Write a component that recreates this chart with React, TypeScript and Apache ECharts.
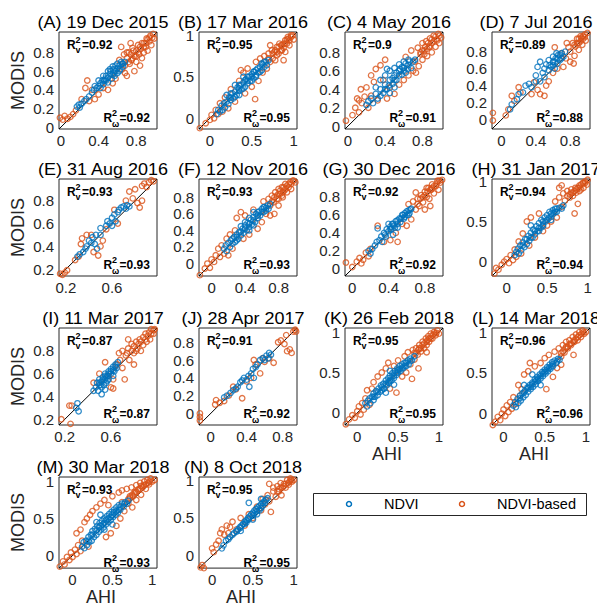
import React, { useEffect, useRef } from 'react';
import * as echarts from 'echarts';

const FONT = '"Liberation Sans", Arial, Helvetica, sans-serif';
const BLUE = '#0072BD';
const ORANGE = '#D95319';
const AXIS_COLOR = '#262626';

// ---------- panel meta ----------
const titles = [
  '(A) 19 Dec 2015', '(B) 17 Mar 2016', '(C) 4 May 2016', '(D) 7 Jul 2016',
  '(E) 31 Aug 2016', '(F) 12 Nov 2016', '(G) 30 Dec 2016', '(H) 31 Jan 2017',
  '(I) 11 Mar 2017', '(J) 28 Apr 2017', '(K) 26 Feb 2018', '(L) 14 Mar 2018',
  '(M) 30 Mar 2018', '(N) 8 Oct 2018',
];
const r2v = ['0.92', '0.95', '0.9', '0.89', '0.93', '0.93', '0.92', '0.94', '0.87', '0.91', '0.95', '0.96', '0.93', '0.95'];
const r2w = ['0.92', '0.95', '0.91', '0.88', '0.93', '0.93', '0.92', '0.94', '0.87', '0.92', '0.95', '0.96', '0.93', '0.95'];
const axisMin = [-0.02, -0.13, -0.03, -0.11, 0.14, -0.15, -0.08, -0.18, 0.15, -0.13, -0.15, -0.14, -0.17, -0.16];
const axisMax = [1.02, 1.04, 1.02, 1.03, 0.99, 1.02, 1.0, 1.03, 1.0, 0.96, 1.05, 1.05, 1.06, 1.04];
const T04 = [0, 0.4, 0.8];
const T05 = [0, 0.5, 1];
const T26 = [0.2, 0.6];
const Y02 = [0, 0.2, 0.4, 0.6, 0.8];
const Y28 = [0.2, 0.4, 0.6, 0.8];
const xTicks = [T04, T05, T04, T04, T26, T04, T04, T05, T26, T04, T05, T05, T05, T05];
const yTicks = [Y02, T05, Y02, Y02, Y28, Y02, Y02, T05, Y28, Y02, T05, T05, T05, T05];
const legendNames = ['NDVI', 'NDVI-based'];

// ---------- data: [AHI, MODIS] ----------
const ndviA = [[0.17,0.22],[0.19,0.24],[0.2,0.21],[0.22,0.25],[0.25,0.28],[0.27,0.3],[0.3,0.33],[0.33,0.37],[0.35,0.4],[0.38,0.42],[0.4,0.44],[0.42,0.47],[0.44,0.5],[0.45,0.46],[0.47,0.52],[0.48,0.55],[0.5,0.53],[0.52,0.57],[0.53,0.6],[0.55,0.56],[0.56,0.62],[0.58,0.6],[0.6,0.63],[0.6,0.58],[0.62,0.66],[0.63,0.62],[0.65,0.68],[0.66,0.65],[0.68,0.7],[0.5,0.6],[0.45,0.55],[0.55,0.65],[0.4,0.5],[0.36,0.44],[0.57,0.55],[0.5,0.48],[0.52,0.62],[0.54,0.52],[0.58,0.66],[0.62,0.6],[0.64,0.7],[0.46,0.5],[0.42,0.42],[0.6,0.68],[0.56,0.58],[0.48,0.5],[0.66,0.68]];
const basedA = [[-0.01,0.1],[0.02,0.08],[0.04,0.12],[0.07,0.09],[0.1,0.11],[0.13,0.14],[0.16,0.18],[0.22,0.3],[0.26,0.42],[0.28,0.5],[0.3,0.28],[0.33,0.4],[0.36,0.3],[0.4,0.35],[0.45,0.42],[0.5,0.4],[0.55,0.47],[0.58,0.52],[0.62,0.72],[0.65,0.62],[0.67,0.78],[0.68,0.66],[0.7,0.74],[0.7,0.55],[0.72,0.8],[0.73,0.68],[0.75,0.72],[0.76,0.85],[0.78,0.76],[0.78,0.6],[0.8,0.82],[0.8,0.7],[0.82,0.88],[0.83,0.78],[0.85,0.84],[0.86,0.74],[0.88,0.9],[0.88,0.8],[0.9,0.86],[0.91,0.95],[0.92,0.82],[0.94,0.92],[0.95,0.98],[0.96,0.88],[0.98,1.0],[0.99,0.95],[0.74,0.9],[0.64,0.86],[0.68,0.58],[0.84,0.66],[0.7,0.8],[0.74,0.78],[0.77,0.82],[0.8,0.76],[0.82,0.8],[0.84,0.86],[0.86,0.9],[0.9,0.9],[0.92,0.94],[0.94,0.96],[0.97,0.96],[0.72,0.7],[0.76,0.74],[0.88,0.86]];

const ndviB = [[0.08,0.05],[0.1,0.1],[0.12,0.08],[0.14,0.15],[0.15,0.1],[0.17,0.18],[0.18,0.13],[0.2,0.2],[0.22,0.17],[0.23,0.25],[0.25,0.22],[0.27,0.3],[0.28,0.24],[0.3,0.32],[0.32,0.28],[0.33,0.37],[0.35,0.33],[0.37,0.4],[0.38,0.35],[0.4,0.43],[0.42,0.38],[0.43,0.47],[0.45,0.42],[0.47,0.5],[0.48,0.45],[0.5,0.53],[0.52,0.48],[0.53,0.56],[0.55,0.52],[0.57,0.6],[0.58,0.55],[0.6,0.62],[0.62,0.58],[0.63,0.65],[0.65,0.62],[0.67,0.68],[0.68,0.64],[0.7,0.7],[0.3,0.4],[0.4,0.5],[0.5,0.45],[0.35,0.28],[0.2,0.28],[0.25,0.3],[0.3,0.26],[0.35,0.4],[0.4,0.36],[0.45,0.5],[0.5,0.5],[0.55,0.58],[0.6,0.56],[0.62,0.66],[0.45,0.45],[0.35,0.36],[0.25,0.25],[0.55,0.5],[0.65,0.68],[0.42,0.46],[0.52,0.56]];
const basedB = [[-0.12,-0.12],[-0.05,-0.06],[0.0,-0.02],[0.02,0.04],[0.05,0.0],[0.07,0.1],[0.1,0.05],[0.12,0.18],[0.15,0.08],[0.18,0.25],[0.22,0.12],[0.25,0.35],[0.3,0.2],[0.35,0.45],[0.37,0.58],[0.4,0.55],[0.42,0.3],[0.45,0.6],[0.5,0.38],[0.54,0.23],[0.55,0.68],[0.58,0.45],[0.6,0.72],[0.63,0.55],[0.65,0.75],[0.68,0.6],[0.7,0.78],[0.72,0.68],[0.74,0.82],[0.75,0.72],[0.77,0.8],[0.78,0.7],[0.8,0.86],[0.82,0.78],[0.83,0.9],[0.85,0.82],[0.86,0.88],[0.88,0.85],[0.9,0.94],[0.9,0.8],[0.92,0.9],[0.94,0.96],[0.95,0.88],[0.97,0.98],[0.99,1.0],[1.0,0.95],[0.72,0.88],[0.88,0.7],[0.7,0.72],[0.75,0.78],[0.78,0.82],[0.8,0.8],[0.82,0.86],[0.85,0.88],[0.88,0.9],[0.9,0.9],[0.92,0.95],[0.95,0.94],[0.97,1.0],[0.8,0.76],[0.86,0.82],[0.93,0.98]];

const ndviC = [[0.2,0.23],[0.22,0.27],[0.25,0.3],[0.27,0.25],[0.3,0.35],[0.3,0.42],[0.32,0.3],[0.35,0.4],[0.35,0.5],[0.38,0.36],[0.4,0.45],[0.4,0.55],[0.42,0.4],[0.45,0.5],[0.45,0.6],[0.48,0.46],[0.5,0.55],[0.5,0.63],[0.52,0.5],[0.55,0.6],[0.55,0.67],[0.58,0.56],[0.6,0.63],[0.6,0.7],[0.62,0.58],[0.65,0.66],[0.65,0.72],[0.68,0.63],[0.7,0.7],[0.72,0.72],[0.45,0.36],[0.5,0.42],[0.35,0.33],[0.42,0.62],[0.5,0.5],[0.55,0.55],[0.6,0.6],[0.62,0.68],[0.58,0.64],[0.52,0.58],[0.48,0.52],[0.66,0.7],[0.44,0.44],[0.4,0.4],[0.56,0.62],[0.64,0.62]];
const basedC = [[-0.02,0.06],[0.05,0.12],[0.08,0.2],[0.1,0.3],[0.12,0.28],[0.12,0.15],[0.14,0.4],[0.15,0.25],[0.18,0.32],[0.2,0.42],[0.22,0.2],[0.25,0.55],[0.28,0.48],[0.3,0.62],[0.32,0.28],[0.35,0.66],[0.38,0.5],[0.4,0.72],[0.42,0.3],[0.45,0.42],[0.5,0.35],[0.55,0.45],[0.6,0.5],[0.62,0.75],[0.65,0.55],[0.68,0.82],[0.7,0.6],[0.72,0.7],[0.75,0.85],[0.76,0.65],[0.78,0.78],[0.8,0.9],[0.8,0.72],[0.82,0.82],[0.84,0.92],[0.85,0.76],[0.87,0.86],[0.88,0.95],[0.9,0.8],[0.9,0.9],[0.92,0.98],[0.94,0.86],[0.95,0.94],[0.97,1.0],[0.98,0.9],[1.0,0.96],[0.73,0.58],[0.25,0.33],[0.8,0.82],[0.83,0.86],[0.86,0.9],[0.88,0.86],[0.9,0.94],[0.92,0.92],[0.94,0.97],[0.96,0.93],[0.98,0.98],[0.85,0.84],[0.78,0.8],[0.82,0.78]];

const ndviD = [[0.1,0.12],[0.12,0.18],[0.18,0.24],[0.2,0.3],[0.25,0.32],[0.28,0.4],[0.32,0.42],[0.35,0.38],[0.4,0.45],[0.4,0.52],[0.42,0.62],[0.45,0.45],[0.45,0.68],[0.48,0.55],[0.5,0.5],[0.5,0.6],[0.52,0.65],[0.55,0.58],[0.55,0.7],[0.58,0.62],[0.6,0.68],[0.6,0.74],[0.62,0.6],[0.63,0.72],[0.65,0.66],[0.66,0.76],[0.68,0.7],[0.7,0.78],[0.72,0.74],[0.74,0.8],[0.56,0.64],[0.64,0.78],[0.6,0.64],[0.65,0.72],[0.7,0.72],[0.62,0.68],[0.68,0.76]];
const basedD = [[-0.1,-0.01],[-0.1,0.08],[0.05,0.05],[0.08,0.12],[0.12,0.28],[0.15,0.22],[0.2,0.38],[0.22,0.32],[0.35,0.3],[0.38,0.44],[0.42,0.35],[0.45,0.3],[0.5,0.28],[0.52,0.4],[0.55,0.45],[0.6,0.55],[0.62,0.85],[0.65,0.6],[0.7,0.78],[0.72,0.62],[0.75,0.72],[0.78,0.85],[0.8,0.68],[0.8,0.8],[0.83,0.9],[0.85,0.75],[0.86,0.86],[0.88,0.95],[0.9,0.82],[0.9,0.9],[0.92,0.98],[0.94,0.88],[0.95,0.95],[0.97,1.0],[1.0,1.02],[0.98,0.93],[0.76,0.9],[0.84,0.66],[0.85,0.88],[0.88,0.9],[0.9,0.95],[0.92,0.92],[0.95,0.98],[0.97,0.97],[0.93,0.96]];

const ndviE = [[0.3,0.31],[0.32,0.33],[0.35,0.35],[0.37,0.38],[0.38,0.4],[0.4,0.45],[0.42,0.43],[0.43,0.48],[0.45,0.42],[0.46,0.5],[0.47,0.38],[0.5,0.5],[0.55,0.58],[0.56,0.62],[0.58,0.6],[0.6,0.65],[0.62,0.68],[0.63,0.62],[0.65,0.7],[0.66,0.72],[0.68,0.74],[0.7,0.75],[0.72,0.73],[0.73,0.76],[0.75,0.75],[0.6,0.58],[0.5,0.56]];
const basedE = [[0.15,0.16],[0.17,0.15],[0.19,0.17],[0.21,0.19],[0.28,0.28],[0.31,0.31],[0.33,0.42],[0.34,0.47],[0.38,0.5],[0.42,0.5],[0.44,0.35],[0.48,0.32],[0.5,0.4],[0.52,0.45],[0.55,0.55],[0.62,0.72],[0.65,0.6],[0.72,0.8],[0.75,0.88],[0.78,0.82],[0.8,0.9],[0.82,0.78],[0.84,0.74],[0.86,0.8],[0.88,0.95],[0.9,0.92],[0.92,0.96],[0.94,0.98],[0.96,0.97],[0.86,0.93]];

const ndviF = [[0.15,0.18],[0.17,0.22],[0.18,0.15],[0.2,0.25],[0.22,0.2],[0.23,0.28],[0.25,0.24],[0.27,0.32],[0.28,0.26],[0.3,0.35],[0.32,0.3],[0.33,0.38],[0.35,0.34],[0.37,0.42],[0.38,0.37],[0.4,0.46],[0.42,0.4],[0.43,0.49],[0.45,0.44],[0.47,0.53],[0.48,0.47],[0.5,0.56],[0.52,0.5],[0.53,0.6],[0.55,0.55],[0.57,0.63],[0.58,0.58],[0.6,0.66],[0.62,0.62],[0.63,0.68],[0.65,0.64],[0.67,0.7],[0.68,0.66],[0.7,0.72],[0.35,0.45],[0.45,0.55],[0.3,0.28],[0.5,0.62],[0.3,0.32],[0.35,0.38],[0.4,0.42],[0.45,0.48],[0.5,0.52],[0.55,0.58],[0.6,0.62],[0.65,0.67],[0.4,0.5],[0.5,0.46],[0.25,0.3],[0.55,0.62],[0.62,0.68],[0.45,0.4]];
const basedF = [[-0.14,-0.14],[-0.08,-0.06],[-0.05,0.0],[-0.02,-0.05],[0.0,0.05],[0.03,0.02],[0.05,0.1],[0.08,0.18],[0.1,0.08],[0.12,0.22],[0.15,0.12],[0.18,0.3],[0.2,0.1],[0.22,0.35],[0.25,0.18],[0.28,0.4],[0.3,0.55],[0.35,0.62],[0.38,0.3],[0.4,0.58],[0.45,0.35],[0.5,0.65],[0.55,0.42],[0.6,0.5],[0.62,0.75],[0.65,0.6],[0.68,0.78],[0.7,0.7],[0.72,0.82],[0.74,0.74],[0.76,0.86],[0.78,0.78],[0.8,0.9],[0.8,0.7],[0.82,0.84],[0.84,0.92],[0.85,0.8],[0.87,0.88],[0.88,0.96],[0.9,0.86],[0.92,0.92],[0.94,0.98],[0.95,0.9],[0.97,1.0],[1.0,0.98],[0.7,0.58],[0.75,0.6],[0.72,0.75],[0.75,0.8],[0.78,0.82],[0.8,0.84],[0.82,0.88],[0.85,0.86],[0.88,0.9],[0.9,0.94],[0.92,0.96],[0.95,0.96],[0.98,1.0],[0.86,0.92],[0.8,0.78],[0.84,0.82]];

const ndviG = [[0.18,0.2],[0.2,0.17],[0.22,0.22],[0.25,0.26],[0.27,0.3],[0.28,0.45],[0.3,0.32],[0.32,0.36],[0.33,0.3],[0.35,0.4],[0.37,0.36],[0.38,0.44],[0.4,0.42],[0.42,0.47],[0.43,0.44],[0.45,0.5],[0.47,0.46],[0.48,0.53],[0.5,0.5],[0.52,0.56],[0.53,0.52],[0.55,0.6],[0.57,0.56],[0.58,0.62],[0.6,0.6],[0.62,0.65],[0.63,0.62],[0.65,0.67],[0.45,0.38],[0.4,0.5],[0.42,0.44],[0.46,0.48],[0.5,0.54],[0.54,0.56],[0.56,0.6],[0.6,0.64],[0.62,0.6],[0.5,0.46],[0.44,0.5],[0.58,0.58],[0.36,0.38],[0.64,0.66]];
const basedG = [[-0.07,0.07],[0.0,0.02],[0.05,0.08],[0.08,0.12],[0.1,0.06],[0.12,0.1],[0.15,0.18],[0.18,0.14],[0.2,0.22],[0.28,0.48],[0.35,0.3],[0.42,0.32],[0.48,0.4],[0.5,0.3],[0.55,0.5],[0.6,0.48],[0.62,0.72],[0.65,0.55],[0.67,0.75],[0.7,0.66],[0.72,0.78],[0.74,0.7],[0.76,0.82],[0.78,0.74],[0.8,0.86],[0.8,0.66],[0.82,0.8],[0.84,0.9],[0.85,0.78],[0.87,0.88],[0.88,0.94],[0.9,0.84],[0.92,0.92],[0.94,0.98],[0.95,0.88],[0.97,0.96],[0.99,0.99],[0.7,0.85],[0.86,0.7],[0.75,0.78],[0.78,0.8],[0.8,0.82],[0.83,0.86],[0.86,0.88],[0.88,0.9],[0.9,0.92],[0.93,0.95],[0.96,0.98],[0.82,0.9],[0.72,0.72]];

const ndviH = [[0.1,0.08],[0.12,0.12],[0.14,0.16],[0.15,0.1],[0.17,0.2],[0.18,0.14],[0.2,0.24],[0.22,0.18],[0.23,0.28],[0.25,0.22],[0.27,0.32],[0.28,0.26],[0.3,0.36],[0.32,0.3],[0.33,0.4],[0.35,0.34],[0.37,0.44],[0.38,0.38],[0.4,0.48],[0.42,0.42],[0.43,0.52],[0.45,0.46],[0.47,0.55],[0.48,0.5],[0.5,0.58],[0.52,0.54],[0.53,0.62],[0.55,0.56],[0.57,0.64],[0.58,0.6],[0.6,0.66],[0.62,0.62],[0.65,0.67],[0.68,0.66],[0.7,0.7],[0.4,0.38],[0.3,0.45],[0.3,0.3],[0.35,0.38],[0.4,0.42],[0.45,0.5],[0.5,0.52],[0.55,0.6],[0.6,0.62],[0.25,0.28],[0.2,0.2],[0.45,0.44],[0.55,0.52],[0.62,0.66]];
const basedH = [[-0.15,-0.15],[-0.13,-0.08],[-0.1,-0.1],[-0.06,-0.04],[-0.03,0.0],[0.0,0.03],[0.03,-0.02],[0.05,0.08],[0.08,0.02],[0.1,0.15],[0.12,0.06],[0.15,0.25],[0.18,0.1],[0.2,0.35],[0.25,0.5],[0.28,0.2],[0.3,0.55],[0.35,0.3],[0.4,0.6],[0.45,0.38],[0.5,0.45],[0.55,0.5],[0.6,0.75],[0.62,0.55],[0.65,0.8],[0.68,0.68],[0.7,0.85],[0.72,0.76],[0.75,0.88],[0.78,0.8],[0.8,0.9],[0.82,0.82],[0.84,0.6],[0.85,0.92],[0.86,0.86],[0.88,0.72],[0.9,0.95],[0.9,0.88],[0.92,0.9],[0.94,0.98],[0.95,0.92],[0.97,1.0],[0.99,0.96],[1.0,1.02],[0.68,0.95],[0.65,0.92],[0.75,0.82],[0.78,0.84],[0.8,0.86],[0.84,0.88],[0.86,0.9],[0.88,0.92],[0.9,0.92],[0.92,0.96],[0.95,0.98],[0.97,0.98],[0.82,0.86]];

const ndviI = [[0.3,0.3],[0.31,0.34],[0.32,0.27],[0.45,0.45],[0.47,0.48],[0.48,0.52],[0.49,0.45],[0.5,0.5],[0.5,0.55],[0.52,0.48],[0.52,0.53],[0.53,0.57],[0.54,0.5],[0.55,0.55],[0.55,0.6],[0.56,0.52],[0.57,0.58],[0.58,0.62],[0.58,0.55],[0.6,0.6],[0.6,0.64],[0.62,0.58],[0.62,0.66],[0.63,0.62],[0.64,0.68],[0.65,0.65],[0.66,0.7],[0.55,0.46],[0.52,0.42],[0.5,0.52],[0.53,0.55],[0.56,0.57],[0.58,0.6],[0.6,0.62],[0.62,0.63],[0.64,0.66],[0.55,0.58],[0.51,0.5],[0.57,0.54]];
const basedI = [[0.17,0.2],[0.24,0.32],[0.26,0.32],[0.25,0.16],[0.45,0.52],[0.5,0.6],[0.55,0.7],[0.58,0.58],[0.6,0.48],[0.62,0.47],[0.65,0.68],[0.67,0.78],[0.68,0.72],[0.7,0.65],[0.7,0.8],[0.72,0.55],[0.73,0.76],[0.75,0.82],[0.76,0.72],[0.78,0.86],[0.8,0.78],[0.8,0.68],[0.82,0.88],[0.83,0.82],[0.85,0.9],[0.86,0.8],[0.88,0.92],[0.88,0.85],[0.9,0.95],[0.91,0.88],[0.93,0.96],[0.94,0.9],[0.95,0.99],[0.97,0.95],[0.98,0.99],[0.75,0.9],[0.62,0.55],[0.78,0.8],[0.8,0.84],[0.84,0.86],[0.86,0.88],[0.9,0.9],[0.92,0.93],[0.95,0.95],[0.97,0.98],[0.82,0.8],[0.74,0.78]];

const ndviJ = [[0.15,0.18],[0.18,0.2],[0.22,0.23],[0.25,0.26],[0.28,0.28],[0.3,0.3],[0.33,0.35],[0.37,0.4],[0.4,0.38],[0.42,0.42],[0.43,0.3],[0.45,0.45],[0.47,0.5],[0.5,0.52],[0.52,0.55],[0.55,0.6],[0.58,0.62],[0.6,0.6],[0.62,0.65],[0.64,0.62],[0.65,0.68],[0.67,0.66],[0.35,0.37],[0.48,0.4]];
const basedJ = [[-0.12,-0.04],[-0.12,0.0],[-0.12,-0.08],[0.05,0.1],[0.06,0.15],[0.1,0.12],[0.15,0.14],[0.2,0.2],[0.25,0.3],[0.28,0.27],[0.35,0.17],[0.4,0.36],[0.45,0.4],[0.48,0.6],[0.5,0.55],[0.55,0.45],[0.58,0.62],[0.6,0.58],[0.65,0.62],[0.7,0.57],[0.75,0.8],[0.78,0.82],[0.82,0.78],[0.84,0.88],[0.85,0.7],[0.88,0.72],[0.9,0.68],[0.92,0.92],[0.94,0.94],[0.95,0.92]];

const ndviK = [[0.1,0.12],[0.12,0.08],[0.13,0.15],[0.15,0.18],[0.16,0.12],[0.18,0.2],[0.2,0.16],[0.2,0.24],[0.22,0.2],[0.23,0.27],[0.25,0.22],[0.26,0.3],[0.28,0.26],[0.29,0.34],[0.3,0.28],[0.32,0.36],[0.33,0.3],[0.35,0.4],[0.36,0.34],[0.38,0.43],[0.39,0.37],[0.4,0.46],[0.42,0.4],[0.43,0.49],[0.45,0.43],[0.46,0.52],[0.48,0.47],[0.49,0.55],[0.5,0.5],[0.52,0.58],[0.53,0.52],[0.55,0.6],[0.56,0.55],[0.58,0.62],[0.6,0.58],[0.62,0.65],[0.63,0.6],[0.65,0.67],[0.67,0.65],[0.7,0.7],[0.35,0.25],[0.4,0.52],[0.45,0.35],[0.3,0.32],[0.35,0.36],[0.4,0.4],[0.45,0.46],[0.5,0.53],[0.55,0.56],[0.6,0.62],[0.65,0.64],[0.25,0.26],[0.2,0.2],[0.42,0.44],[0.48,0.5],[0.52,0.54],[0.58,0.58],[0.38,0.38],[0.32,0.3]];
const basedK = [[-0.14,-0.14],[-0.1,-0.08],[-0.06,-0.03],[-0.03,-0.06],[0.0,0.02],[0.02,0.08],[0.04,-0.02],[0.06,0.12],[0.08,0.04],[0.1,0.18],[0.12,0.28],[0.15,0.1],[0.18,0.3],[0.2,0.38],[0.25,0.45],[0.3,0.5],[0.35,0.55],[0.38,0.62],[0.4,0.3],[0.45,0.58],[0.48,0.25],[0.5,0.65],[0.55,0.45],[0.58,0.7],[0.6,0.5],[0.62,0.75],[0.65,0.6],[0.67,0.42],[0.68,0.78],[0.7,0.66],[0.72,0.8],[0.74,0.72],[0.75,0.55],[0.76,0.84],[0.78,0.76],[0.8,0.88],[0.82,0.8],[0.84,0.92],[0.85,0.84],[0.87,0.95],[0.88,0.88],[0.9,0.98],[0.92,0.92],[0.94,1.0],[0.96,0.96],[0.98,1.02],[1.0,0.98],[0.85,0.75],[0.72,0.74],[0.75,0.78],[0.78,0.8],[0.8,0.84],[0.82,0.86],[0.85,0.88],[0.88,0.92],[0.9,0.92],[0.92,0.96],[0.95,0.98],[0.97,0.99],[0.7,0.74],[0.76,0.8],[0.86,0.9]];

const ndviL = [[0.12,0.1],[0.14,0.14],[0.15,0.08],[0.17,0.18],[0.18,0.13],[0.2,0.22],[0.21,0.16],[0.23,0.25],[0.24,0.2],[0.26,0.28],[0.27,0.23],[0.29,0.32],[0.3,0.27],[0.32,0.35],[0.33,0.3],[0.35,0.38],[0.36,0.33],[0.38,0.42],[0.39,0.36],[0.41,0.45],[0.42,0.4],[0.44,0.48],[0.45,0.43],[0.47,0.51],[0.48,0.46],[0.5,0.54],[0.51,0.49],[0.53,0.57],[0.54,0.52],[0.56,0.6],[0.57,0.55],[0.59,0.63],[0.6,0.58],[0.62,0.65],[0.64,0.62],[0.66,0.67],[0.68,0.66],[0.35,0.48],[0.45,0.35],[0.25,0.35],[0.3,0.31],[0.35,0.36],[0.4,0.41],[0.45,0.46],[0.5,0.51],[0.55,0.56],[0.6,0.61],[0.65,0.64],[0.25,0.26],[0.2,0.19],[0.42,0.43],[0.48,0.49],[0.52,0.53],[0.58,0.58],[0.38,0.39],[0.33,0.33]];
const basedL = [[-0.13,-0.14],[-0.1,-0.1],[-0.07,-0.04],[-0.04,-0.08],[-0.02,0.0],[0.0,0.05],[0.02,-0.03],[0.04,0.1],[0.06,0.02],[0.08,0.14],[0.1,0.06],[0.12,0.2],[0.15,0.12],[0.18,0.35],[0.22,0.3],[0.25,0.48],[0.3,0.52],[0.32,0.62],[0.38,0.58],[0.45,0.62],[0.5,0.68],[0.52,0.3],[0.55,0.72],[0.6,0.45],[0.62,0.76],[0.65,0.56],[0.67,0.8],[0.7,0.7],[0.72,0.84],[0.74,0.75],[0.76,0.88],[0.78,0.8],[0.8,0.9],[0.82,0.84],[0.84,0.94],[0.85,0.72],[0.86,0.88],[0.88,0.97],[0.9,0.9],[0.92,1.0],[0.94,0.94],[0.96,1.02],[0.98,0.98],[1.0,1.0],[0.7,0.6],[0.2,0.22],[0.72,0.76],[0.75,0.8],[0.78,0.82],[0.8,0.85],[0.82,0.86],[0.85,0.88],[0.88,0.92],[0.9,0.94],[0.92,0.96],[0.95,0.98],[0.97,1.0],[0.7,0.74],[0.76,0.82],[0.86,0.9]];

const ndviM = [[0.12,0.12],[0.14,0.18],[0.15,0.1],[0.17,0.2],[0.18,0.14],[0.2,0.25],[0.21,0.18],[0.23,0.28],[0.24,0.2],[0.25,0.33],[0.27,0.25],[0.28,0.36],[0.3,0.28],[0.31,0.4],[0.33,0.32],[0.34,0.44],[0.36,0.35],[0.37,0.47],[0.39,0.38],[0.4,0.5],[0.42,0.42],[0.43,0.53],[0.45,0.45],[0.46,0.56],[0.48,0.48],[0.49,0.59],[0.51,0.52],[0.52,0.62],[0.54,0.55],[0.55,0.65],[0.57,0.58],[0.58,0.68],[0.6,0.62],[0.62,0.7],[0.64,0.66],[0.66,0.72],[0.68,0.7],[0.7,0.74],[0.35,0.55],[0.4,0.35],[0.3,0.45],[0.5,0.42],[0.3,0.34],[0.35,0.4],[0.4,0.44],[0.45,0.5],[0.5,0.55],[0.55,0.6],[0.6,0.66],[0.65,0.7],[0.25,0.28],[0.2,0.2],[0.42,0.48],[0.48,0.52],[0.52,0.58],[0.58,0.62],[0.38,0.42],[0.33,0.38]];
const basedM = [[-0.16,-0.15],[-0.12,-0.08],[-0.1,-0.12],[-0.07,-0.02],[-0.04,-0.06],[-0.02,0.04],[0.0,-0.02],[0.03,0.08],[0.05,0.02],[0.07,0.14],[0.1,0.06],[0.05,0.3],[0.1,0.35],[0.12,0.2],[0.15,0.45],[0.18,0.5],[0.2,0.12],[0.22,0.55],[0.25,0.6],[0.3,0.65],[0.35,0.7],[0.4,0.75],[0.42,0.25],[0.48,0.3],[0.5,0.8],[0.55,0.4],[0.58,0.85],[0.6,0.5],[0.62,0.88],[0.65,0.6],[0.68,0.9],[0.7,0.7],[0.72,0.8],[0.74,0.92],[0.75,0.65],[0.78,0.86],[0.8,0.95],[0.8,0.75],[0.83,0.9],[0.85,0.98],[0.86,0.82],[0.88,0.94],[0.9,1.0],[0.92,0.9],[0.94,1.02],[0.96,0.96],[0.98,1.04],[1.0,1.0],[1.03,1.02],[0.62,0.72],[0.45,0.68],[0.72,0.78],[0.75,0.82],[0.78,0.84],[0.8,0.86],[0.82,0.88],[0.85,0.9],[0.88,0.92],[0.9,0.95],[0.92,0.96],[0.95,0.98],[0.97,1.0],[0.7,0.76],[0.76,0.8],[0.86,0.94]];

const ndviN = [[0.12,0.1],[0.14,0.14],[0.17,0.2],[0.2,0.22],[0.22,0.25],[0.25,0.28],[0.27,0.3],[0.3,0.33],[0.32,0.35],[0.34,0.38],[0.36,0.4],[0.38,0.42],[0.4,0.45],[0.42,0.47],[0.44,0.5],[0.46,0.52],[0.48,0.55],[0.5,0.57],[0.52,0.6],[0.54,0.62],[0.56,0.64],[0.58,0.66],[0.6,0.68],[0.62,0.7],[0.64,0.72],[0.66,0.74],[0.68,0.76],[0.45,0.7],[0.5,0.48],[0.55,0.55],[0.35,0.33],[0.6,0.75],[0.3,0.32],[0.35,0.37],[0.4,0.42],[0.45,0.48],[0.5,0.53],[0.55,0.59],[0.6,0.63],[0.65,0.7],[0.42,0.44],[0.52,0.56],[0.58,0.6],[0.62,0.66]];
const basedN = [[-0.14,-0.15],[-0.12,-0.12],[-0.1,-0.16],[0.0,0.1],[0.02,0.05],[0.05,0.15],[0.08,0.2],[0.1,0.3],[0.12,0.35],[0.15,0.28],[0.18,0.4],[0.2,0.3],[0.22,0.38],[0.25,0.45],[0.3,0.35],[0.35,0.5],[0.4,0.4],[0.45,0.55],[0.5,0.5],[0.55,0.65],[0.6,0.6],[0.62,0.75],[0.65,0.68],[0.68,0.8],[0.7,0.72],[0.72,0.58],[0.75,0.85],[0.75,0.9],[0.78,0.78],[0.8,0.92],[0.82,0.85],[0.84,0.96],[0.85,0.8],[0.88,0.95],[0.9,0.9],[0.92,1.0],[0.94,0.94],[0.96,1.02],[0.98,0.98],[1.0,1.0],[0.7,0.95],[0.8,0.85],[0.82,0.88],[0.86,0.9],[0.88,0.92],[0.9,0.95],[0.93,0.96],[0.95,0.98],[0.97,1.0],[0.84,0.9]];

const ndviData = [ndviA, ndviB, ndviC, ndviD, ndviE, ndviF, ndviG, ndviH, ndviI, ndviJ, ndviK, ndviL, ndviM, ndviN];
const basedData = [basedA, basedB, basedC, basedD, basedE, basedF, basedG, basedH, basedI, basedJ, basedK, basedL, basedM, basedN];

// ---------- layout ----------
const COL_LEFT = [59, 199, 345, 492];
const ROW_TOP = [32, 179, 328, 477];
const BOX_W = 98;
const BOX_H = 97;
const MODIS_PANELS = [0, 4, 8, 12];
const AHI_PANELS = [10, 11, 12, 13];

function txt(x: number, y: number, text: string, size: number, weight: string, align: string, valign: string, extra: any = {}) {
  return {
    type: 'text',
    x,
    y,
    silent: true,
    ...extra,
    style: {
      text,
      fill: '#000',
      font: `${weight} ${size}px ${FONT}`,
      textAlign: align,
      textVerticalAlign: valign,
      align,
      verticalAlign: valign,
    },
  };
}

function buildOption() {
  const grid: any[] = [];
  const xAxis: any[] = [];
  const yAxis: any[] = [];
  const series: any[] = [];
  const graphic: any[] = [];

  for (let i = 0; i < titles.length; i++) {
    const c = i % 4;
    const r = Math.floor(i / 4);
    const L = COL_LEFT[c];
    const T = ROW_TOP[r];
    const R = L + BOX_W;
    const B = T + BOX_H;
    const lo = axisMin[i];
    const hi = axisMax[i];

    grid.push({
      left: L, top: T, width: BOX_W, height: BOX_H,
      show: true, borderColor: AXIS_COLOR, borderWidth: 1, backgroundColor: 'transparent',
    });
    const labelStyle = { fontSize: 15, color: AXIS_COLOR, fontFamily: FONT };
    xAxis.push({
      type: 'value', gridIndex: i, min: lo, max: hi,
      axisLine: { show: false }, axisTick: { show: false }, splitLine: { show: false },
      axisLabel: { ...labelStyle, margin: 4, customValues: xTicks[i], formatter: (v: number) => String(v) },
      name: AHI_PANELS.includes(i) ? 'AHI' : '',
      nameLocation: 'middle', nameGap: 19,
      nameTextStyle: { fontSize: 18, color: AXIS_COLOR, fontFamily: FONT, padding: [0, 14, 0, 0] },
    });
    yAxis.push({
      type: 'value', gridIndex: i, min: lo, max: hi,
      axisLine: { show: false }, axisTick: { show: false }, splitLine: { show: false },
      axisLabel: { ...labelStyle, margin: 5, customValues: yTicks[i], formatter: (v: number) => String(v) },
      name: MODIS_PANELS.includes(i) ? 'MODIS' : '',
      nameLocation: 'middle', nameGap: 32, nameRotate: 90,
      nameTextStyle: { fontSize: 18, color: AXIS_COLOR, fontFamily: FONT },
    });

    series.push({
      type: 'line', name: '1:1', xAxisIndex: i, yAxisIndex: i,
      data: [[lo, lo], [hi, hi]], symbol: 'none', silent: true, z: 1,
      lineStyle: { color: '#000', width: 1 },
    });
    series.push({
      type: 'scatter', name: legendNames[1], xAxisIndex: i, yAxisIndex: i,
      data: basedData[i], symbol: 'circle', symbolSize: 5.5, z: 2,
      itemStyle: { color: 'transparent', borderColor: ORANGE, borderWidth: 1.3 },
    });
    series.push({
      type: 'scatter', name: legendNames[0], xAxisIndex: i, yAxisIndex: i,
      data: ndviData[i], symbol: 'circle', symbolSize: 5.5, z: 3,
      itemStyle: { color: 'transparent', borderColor: BLUE, borderWidth: 1.3 },
    });

    // title (slightly compressed vertically, like the reference)
    graphic.push(txt(L + BOX_W / 2 - 5, T - 9, titles[i], 18, 'normal', 'center', 'middle', { scaleY: 0.88 }));
    // R^2 nu (top-left)
    graphic.push(txt(L + 8, T + 12.5, 'R', 12, 'bold', 'left', 'middle'));
    graphic.push(txt(L + 16.5, T + 8, '2', 9, 'bold', 'left', 'middle'));
    graphic.push(txt(L + 16.5, T + 17.5, 'v', 9, 'bold', 'left', 'middle'));
    graphic.push(txt(L + 23, T + 12.5, '=' + r2v[i], 12, 'bold', 'left', 'middle'));
    // R^2 omega (bottom-right)
    graphic.push(txt(R - 53.5, B - 11, 'R', 12, 'bold', 'left', 'middle'));
    graphic.push(txt(R - 45, B - 16, '2', 9, 'bold', 'left', 'middle'));
    graphic.push(txt(R - 45, B - 5.5, 'ω', 8.5, 'bold', 'left', 'middle'));
    graphic.push(txt(R - 37.5, B - 11, '=' + r2w[i], 12, 'bold', 'left', 'middle'));
  }

  // legend box (drawn to match the reference's wide spacing)
  const LG = { x: 313, y: 493, w: 273, h: 22 };
  const cy = LG.y + LG.h / 2;
  graphic.push({
    type: 'rect', silent: true,
    shape: { x: LG.x + 0.5, y: LG.y + 0.5, width: LG.w, height: LG.h },
    style: { fill: '#fff', stroke: AXIS_COLOR, lineWidth: 1 },
  });
  graphic.push({
    type: 'circle', silent: true,
    shape: { cx: 349, cy, r: 2.5 },
    style: { fill: 'transparent', stroke: BLUE, lineWidth: 1.5 },
  });
  graphic.push(txt(384, cy, legendNames[0], 14.5, 'normal', 'left', 'middle'));
  graphic.push({
    type: 'circle', silent: true,
    shape: { cx: 462, cy, r: 2.5 },
    style: { fill: 'transparent', stroke: ORANGE, lineWidth: 1.5 },
  });
  graphic.push(txt(497, cy, legendNames[1], 14.5, 'normal', 'left', 'middle'));

  return {
    animation: false,
    backgroundColor: '#fff',
    grid,
    xAxis,
    yAxis,
    series,
    graphic,
  };
}

export default function App() {
  const ref = useRef<HTMLDivElement>(null);
  useEffect(() => {
    document.body.style.margin = '0';
    if (!ref.current) return;
    const chart = echarts.init(ref.current, undefined, { renderer: 'svg' });
    chart.setOption(buildOption() as any);
    return () => chart.dispose();
  }, []);
  return <div ref={ref} style={{ width: 597, height: 607 }} />;
}
